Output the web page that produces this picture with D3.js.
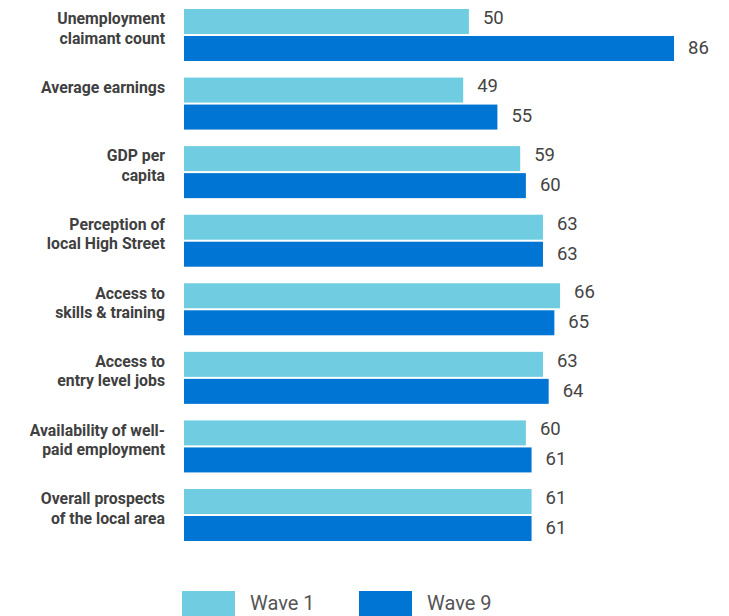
<!DOCTYPE html>
<html>
<head>
<meta charset="utf-8">
<script src="https://cdn.jsdelivr.net/npm/d3@7/dist/d3.min.js"></script>
<style>
  html, body { margin: 0; padding: 0; background: #fff; }
  svg { display: block; font-family: Roboto, "Noto Sans", sans-serif; }
</style>
</head>
<body>
<svg id="chart" width="729" height="616"></svg>
<script>
// Category labels (each entry is the wrapped lines of one label)
const categories = [
  ["Unemployment", "claimant count"],
  ["Average earnings"],
  ["GDP per", "capita"],
  ["Perception of", "local High Street"],
  ["Access to", "skills & training"],
  ["Access to", "entry level jobs"],
  ["Availability of well-", "paid employment"],
  ["Overall prospects", "of the local area"]
];
const seriesNames = ["Wave 1", "Wave 9"];
const wave1 = [50, 49, 59, 63, 66, 63, 60, 61];
const wave9 = [86, 55, 60, 63, 65, 64, 61, 61];
const colors = ["#70cde1", "#0075d4"];

const svg = d3.select("#chart");
const keys = categories.map((c, i) => i);
const values = [wave1, wave9];

const x = d3.scaleLinear().domain([0, 100]).range([184, 753.8]);
const y = d3.scaleBand().domain(keys).range([9, 541]).paddingInner(0.2417).paddingOuter(0);
const ySub = d3.scaleBand().domain(seriesNames).range([0, y.bandwidth()]).paddingInner(0.074);

const rows = svg.append("g").selectAll("g.row")
  .data(keys)
  .join("g")
  .attr("class", "row")
  .attr("transform", d => `translate(0,${y(d)})`);

// Bars and value labels
seriesNames.forEach((s, si) => {
  rows.append("rect")
    .attr("x", x(0))
    .attr("y", ySub(s))
    .attr("width", d => x(values[si][d]) - x(0))
    .attr("height", ySub.bandwidth())
    .attr("fill", colors[si]);
  rows.append("text")
    .attr("x", d => x(values[si][d]) + 14)
    .attr("y", ySub(s) + (si === 0 ? 14.8 : 17.8))
    .attr("font-size", 18.5)
    .attr("fill", "#444")
    .text(d => values[si][d]);
});

// Category labels, right aligned
rows.append("text")
  .attr("text-anchor", "end")
  .attr("font-size", 15.8)
  .attr("font-weight", "bold")
  .attr("fill", "#404040")
  .selectAll("tspan")
  .data(d => categories[d])
  .join("tspan")
  .attr("x", 165)
  .attr("y", (d, i) => 15.3 + i * 19.2)
  .text(d => d);

// Legend
const legend = svg.append("g").selectAll("g")
  .data(seriesNames)
  .join("g")
  .attr("transform", (d, i) => `translate(${182 + i * 177},591)`);
legend.append("rect")
  .attr("width", 53)
  .attr("height", 25)
  .attr("fill", (d, i) => colors[i]);
legend.append("text")
  .attr("x", 68)
  .attr("y", 19)
  .attr("font-size", 20)
  .attr("fill", "#555")
  .text(d => d);
</script>
</body>
</html>
